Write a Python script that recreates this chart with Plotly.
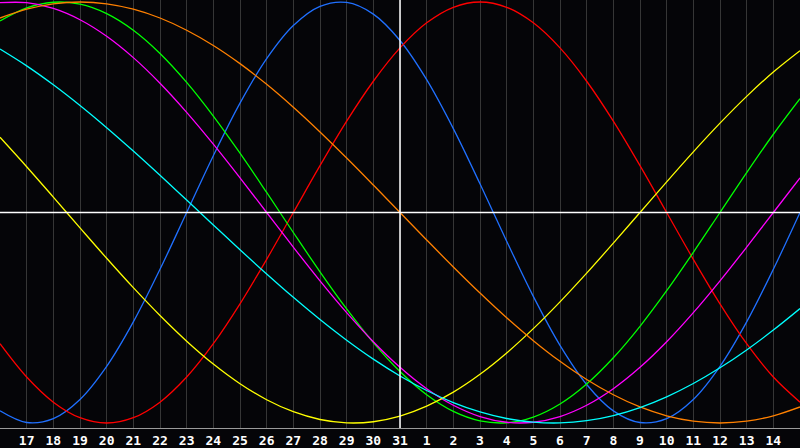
import plotly.graph_objects as go

# day index -1..29 (index 0 = the 17th, index 14 = the 31st)
day_index = list(range(-1, 30))
tick_index = list(range(0, 29))
tick_labels = ['17', '18', '19', '20', '21', '22', '23', '24', '25', '26', '27', '28', '29', '30', '31',
               '1', '2', '3', '4', '5', '6', '7', '8', '9', '10', '11', '12', '13', '14']
today_index = 14

physical = [-0.9423, -0.9977, -0.9791, -0.8880, -0.7308, -0.5196, -0.2698, 0.0, 0.2698, 0.5196,
            0.7308, 0.8880, 0.9791, 0.9977, 0.9423, 0.8170, 0.6310, 0.3984, 0.1362, -0.1362,
            -0.3984, -0.6310, -0.8170, -0.9423, -0.9977, -0.9791, -0.8880, -0.7308, -0.5196, -0.2698, 0.0]
emotional = [-0.6235, -0.7818, -0.9010, -0.9749, -1.0, -0.9749, -0.9010, -0.7818, -0.6235, -0.4339,
             -0.2225, 0.0, 0.2225, 0.4339, 0.6235, 0.7818, 0.9010, 0.9749, 1.0, 0.9749,
             0.9010, 0.7818, 0.6235, 0.4339, 0.2225, 0.0, -0.2225, -0.4339, -0.6235, -0.7818, -0.9010]
intellectual = [0.9096, 0.9718, 0.9989, 0.9898, 0.9450, 0.8660, 0.7557, 0.6182, 0.4582, 0.2817,
                0.0951, -0.0951, -0.2817, -0.4582, -0.6182, -0.7557, -0.8660, -0.9450, -0.9898, -0.9989,
                -0.9718, -0.9096, -0.8146, -0.6901, -0.5406, -0.3717, -0.1893, 0.0, 0.1893, 0.3717, 0.5406]
intuitive = [0.9966, 0.9966, 0.9694, 0.9158, 0.8372, 0.7357, 0.6142, 0.4759, 0.3247, 0.1646,
             0.0, -0.1646, -0.3247, -0.4759, -0.6142, -0.7357, -0.8372, -0.9158, -0.9694, -0.9966,
             -0.9966, -0.9694, -0.9158, -0.8372, -0.7357, -0.6142, -0.4759, -0.3247, -0.1646, 0.0, 0.1646]
aesthetic = [0.3572, 0.2174, 0.0730, -0.0730, -0.2174, -0.3572, -0.4894, -0.6112, -0.7199, -0.8133,
             -0.8894, -0.9465, -0.9834, -0.9993, -0.9940, -0.9675, -0.9203, -0.8536, -0.7687, -0.6673,
             -0.5517, -0.4244, -0.2881, -0.1456, 0.0, 0.1456, 0.2881, 0.4244, 0.5517, 0.6673, 0.7687]
awareness = [0.9239, 0.9659, 0.9914, 1.0, 0.9914, 0.9659, 0.9239, 0.8660, 0.7934, 0.7071,
             0.6088, 0.5, 0.3827, 0.2588, 0.1305, 0.0, -0.1305, -0.2588, -0.3827, -0.5,
             -0.6088, -0.7071, -0.7934, -0.8660, -0.9239, -0.9659, -0.9914, -1.0, -0.9914, -0.9659, -0.9239]
spiritual = [0.7765, 0.6966, 0.6068, 0.5085, 0.4031, 0.2921, 0.1769, 0.0592, -0.0592, -0.1769,
             -0.2921, -0.4031, -0.5085, -0.6068, -0.6966, -0.7765, -0.8456, -0.9028, -0.9473, -0.9786,
             -0.9960, -0.9996, -0.9890, -0.9646, -0.9267, -0.8757, -0.8125, -0.7378, -0.6528, -0.5586, -0.4566]

series = [
    ('physical', physical, '#2070ff'),
    ('emotional', emotional, '#ff0000'),
    ('intellectual', intellectual, '#00ff00'),
    ('intuitive', intuitive, '#ff00ff'),
    ('aesthetic', aesthetic, '#ffff00'),
    ('awareness', awareness, '#ff8000'),
    ('spiritual', spiritual, '#00ffff'),
]

fig = go.Figure()
for name, values, color in series:
    fig.add_trace(go.Scatter(x=day_index, y=values, mode='lines', name=name,
                             line=dict(color=color, width=1.3, shape='spline')))

fig.add_hline(y=0, line=dict(color='white', width=1.5))
fig.add_vline(x=today_index, line=dict(color='white', width=1.5))

fig.update_layout(
    width=800, height=448,
    margin=dict(l=0, r=0, t=0, b=20),
    paper_bgcolor='#050508', plot_bgcolor='#050508',
    showlegend=False,
)
fig.update_xaxes(range=[-1, 29], tickvals=tick_index, ticktext=tick_labels,
                 showgrid=True, gridcolor='#363636', gridwidth=1, zeroline=False,
                 showline=True, linecolor='#9a9a9a', linewidth=1, mirror=True,
                 ticks='', tickfont=dict(family='DejaVu Sans Mono', size=13, color='white', weight='bold'))
fig.update_yaxes(range=[-1.0238, 1.0095], showgrid=False, zeroline=False, showticklabels=False,
                 showline=True, linecolor='#9a9a9a', linewidth=1, mirror=True)

# the page body has a default 8px margin; drop it so the chart fills the window
fig.write_html("out.html", config={'displayModeBar': False},
               post_script="document.body.style.margin='0';document.body.style.background='#050508';")
